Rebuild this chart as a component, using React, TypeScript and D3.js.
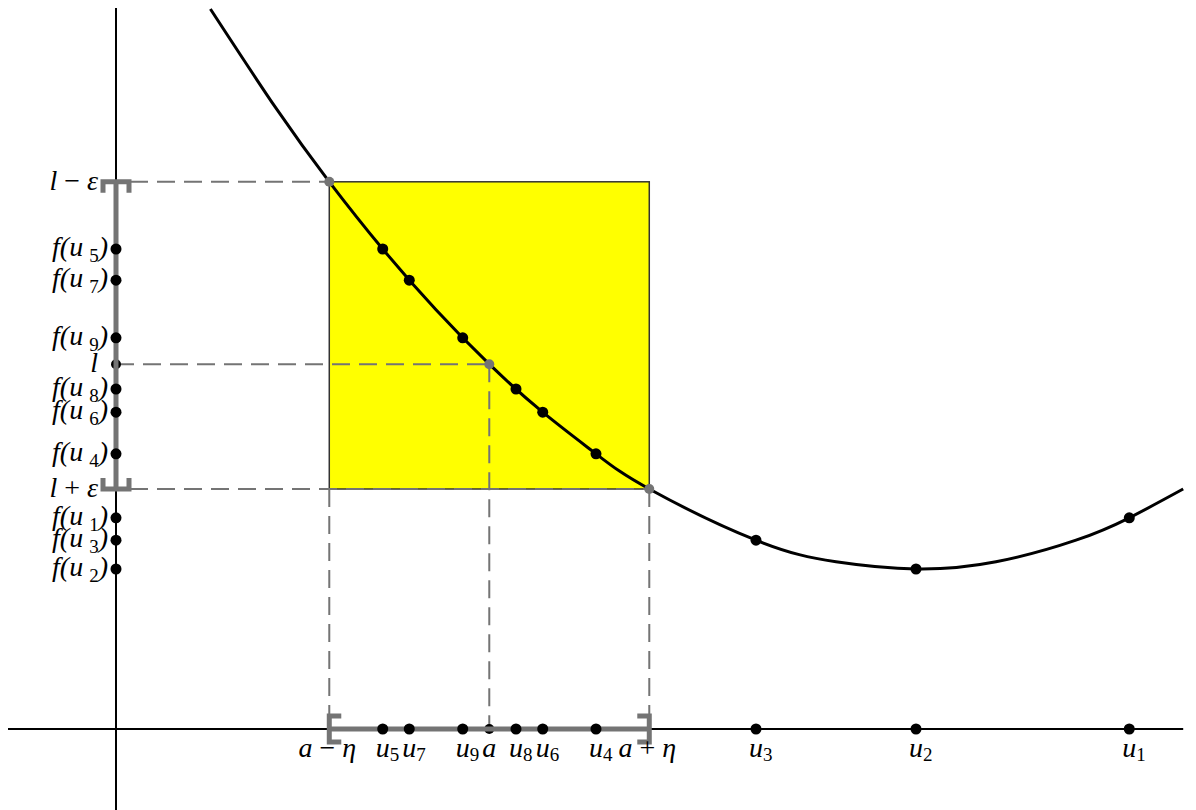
import React from "react";
import * as d3 from "d3";

// ---- data ----
const uNames = ["1", "2", "3", "4", "5", "6", "7", "8", "9"];
const uValues = [6.333, 5.0, 4.0, 3.0, 1.667, 2.667, 1.833, 2.5, 2.167];
const fuValues = [1.32, 1.0, 1.18, 1.72, 3.0, 1.98, 2.805, 2.125, 2.445];

const aValue = 2.333;
const etaValue = 1.0;
const lValue = 2.28;
const lMinusEps = 3.42; // upper edge (labelled l − ε)
const lPlusEps = 1.5; // lower edge (labelled l + ε)

const curveX = [0.59, 1, 1.333, 1.667, 2, 2.333, 2.667, 3, 3.333, 4, 4.5, 5, 5.5, 6, 6.333, 6.67];
const curveY = [4.5, 3.88, 3.42, 3.0, 2.62, 2.28, 1.98, 1.72, 1.5, 1.18, 1.045, 1.0, 1.045, 1.18, 1.32, 1.5];

const xAxisExtent = [-0.675, 6.67];
const yAxisExtent = [-0.506, 4.506];

// ---- layout ----
const W = 1196;
const H = 810;
const GRAY = "#747474";
const FONT = "Liberation Serif";
const FS = 28;
const txt: React.CSSProperties = { fontFamily: FONT, fontStyle: "italic", fontSize: FS };
const up: React.CSSProperties = { fontStyle: "normal" };

const x = d3.scaleLinear().domain([0, 5]).range([116, 916]);
const y = d3.scaleLinear().domain([0, 1]).range([729, 569]);

export default function App() {
  const x0 = x(0);
  const y0 = y(0);
  const xa = x(aValue);
  const xL = x(aValue - etaValue);
  const xR = x(aValue + etaValue);
  const yl = y(lValue);
  const yTop = y(lMinusEps);
  const yBot = y(lPlusEps);

  const line = d3
    .line<number>()
    .x((d, i) => x(curveX[i]))
    .y((d, i) => y(curveY[i]))
    .curve(d3.curveNatural);
  const curvePath = line(curveX) || "";

  const dash = "18,9";
  const subSize = 19;
  const xBase = 757;

  const fLabel = (name: string, yy: number, key: string) => (
    <text key={key} x={108} y={yy + 7} textAnchor="end" style={txt}>
      <tspan>f(u</tspan>
      <tspan dx={6} dy={6} style={{ ...up, fontSize: subSize }}>{name}</tspan>
      <tspan dy={-6}>)</tspan>
    </text>
  );

  const uLabel = (name: string, xx: number, key: string) => (
    <text key={key} x={xx - 7} y={xBase} style={txt}>
      <tspan>u</tspan>
      <tspan dy={4} style={{ ...up, fontSize: subSize }}>{name}</tspan>
    </text>
  );

  return (
    <svg width={W} height={H} style={{ position: "absolute", left: 0, top: 0 }}>
      <rect x={0} y={0} width={W} height={H} fill="#ffffff" />
      {/* yellow rectangle */}
      <rect x={xL} y={yTop} width={xR - xL} height={yBot - yTop} fill="#ffff00" stroke="#333" strokeWidth={1.5} />

      {/* axes */}
      <line x1={x(xAxisExtent[0])} x2={x(xAxisExtent[1])} y1={y0} y2={y0} stroke="#000" strokeWidth={2} />
      <line x1={x0} x2={x0} y1={y(yAxisExtent[0])} y2={y(yAxisExtent[1])} stroke="#000" strokeWidth={2} />

      {/* dashed guides */}
      <g stroke={GRAY} strokeWidth={2} strokeDasharray={dash} fill="none">
        <line x1={x0 + 14} x2={xL} y1={yTop} y2={yTop} />
        <line x1={x0} x2={xa} y1={yl} y2={yl} />
        <line x1={x0 + 14} x2={xR} y1={yBot} y2={yBot} />
        <line x1={xL} x2={xL} y1={yBot} y2={y0 - 14} />
        <line x1={xa} x2={xa} y1={yl} y2={y0} />
        <line x1={xR} x2={xR} y1={yBot} y2={y0 - 14} />
      </g>

      {/* curve */}
      <path d={curvePath} fill="none" stroke="#000" strokeWidth={3} />

      {/* points under brackets */}
      <circle cx={xa} cy={y0} r={5} fill="#000" />
      <circle cx={x0} cy={yl} r={5} fill="#000" />

      {/* brackets */}
      <g stroke={GRAY} strokeWidth={5} fill="none">
        <line x1={x0} x2={x0} y1={yTop} y2={yBot} />
        <path d={`M${x0 - 13},${yTop + 11}V${yTop}H${x0 + 13}V${yTop + 11}`} />
        <path d={`M${x0 - 13},${yBot - 11}V${yBot}H${x0 + 13}V${yBot - 11}`} />
        <line x1={xL} x2={xR} y1={y0} y2={y0} />
        <path d={`M${xL + 12},${y0 - 13}H${xL}V${y0 + 13}H${xL + 12}`} />
        <path d={`M${xR - 12},${y0 - 13}H${xR}V${y0 + 13}H${xR - 12}`} />
      </g>

      {/* u points on axis and on curve, f(u) points on y axis */}
      {uValues.map((u, i) => (
        <g key={"u" + i}>
          <circle cx={x(u)} cy={y0} r={5.5} fill="#000" />
          <circle cx={x(u)} cy={y(fuValues[i])} r={5.5} fill="#000" />
          <circle cx={x0} cy={y(fuValues[i])} r={5.5} fill="#000" />
        </g>
      ))}

      {/* gray points on curve */}
      <circle cx={xL} cy={yTop} r={5} fill={GRAY} />
      <circle cx={xa} cy={yl} r={5} fill={GRAY} />
      <circle cx={xR} cy={yBot} r={5} fill={GRAY} />

      {/* y labels */}
      <text x={98} y={yTop + 8} textAnchor="end" style={txt}>
        <tspan>l</tspan>
        <tspan style={up}>{" \u2212 "}</tspan>
        <tspan>ε</tspan>
      </text>
      <text x={98} y={yl + 8} textAnchor="end" style={txt}>l</text>
      <text x={98} y={yBot + 8} textAnchor="end" style={txt}>
        <tspan>l</tspan>
        <tspan style={up}>{" + "}</tspan>
        <tspan>ε</tspan>
      </text>
      {uValues.map((u, i) => fLabel(uNames[i], y(fuValues[i]), "f" + i))}

      {/* x labels */}
      <text x={xL - 2} y={xBase} textAnchor="middle" style={txt}>
        <tspan>a</tspan>
        <tspan style={up}>{" \u2212 "}</tspan>
        <tspan>η</tspan>
      </text>
      <text x={xa} y={xBase} textAnchor="middle" style={txt}>a</text>
      <text x={xR - 2} y={xBase} textAnchor="middle" style={txt}>
        <tspan>a</tspan>
        <tspan style={up}>{" + "}</tspan>
        <tspan>η</tspan>
      </text>
      {uValues.map((u, i) => uLabel(uNames[i], x(u), "ul" + i))}
    </svg>
  );
}
